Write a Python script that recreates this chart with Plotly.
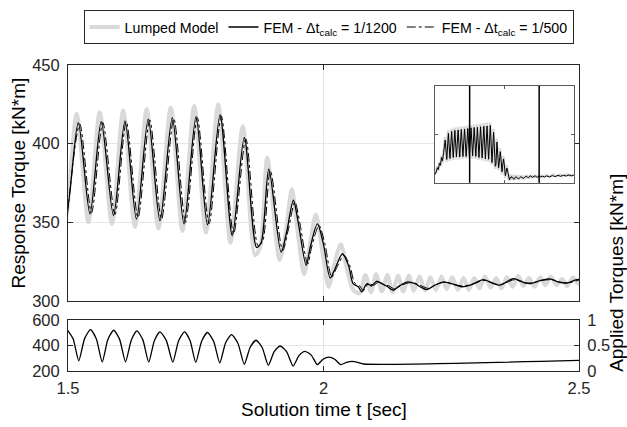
import plotly.graph_objects as go

# ---------------- data ----------------
# FEM dt = 1/1200 response torque [kN*m]
t_fem1200 = [1.000, 1.020, 1.035, 1.050, 1.065, 1.080, 1.095, 1.110, 1.125, 1.148,
             1.171, 1.194, 1.217, 1.241, 1.264, 1.287, 1.310, 1.334, 1.357, 1.380,
             1.4035, 1.4268, 1.450, 1.4734, 1.4967, 1.520, 1.543, 1.565, 1.589, 1.6115,
             1.634, 1.657, 1.680, 1.704, 1.727, 1.7505, 1.773, 1.7975, 1.8215, 1.845,
             1.869, 1.878, 1.893, 1.917, 1.928, 1.941, 1.951, 1.966, 1.974, 1.988,
             2.000, 2.013, 2.022, 2.037, 2.049, 2.058, 2.068, 2.075, 2.085, 2.094,
             2.104, 2.114, 2.124, 2.137, 2.146, 2.163, 2.179, 2.189, 2.202, 2.218,
             2.2345, 2.251, 2.270, 2.287, 2.300, 2.313, 2.330, 2.345, 2.3715, 2.390,
             2.404, 2.425, 2.443, 2.460, 2.476, 2.4987, 2.52, 2.55, 2.58, 2.61,
             2.65, 2.69, 2.73, 2.77, 2.81, 2.85, 2.89, 2.93, 2.97, 3.00]
v_fem1200 = [317, 322, 331, 327, 340, 336, 352, 345, 362, 388,
             348, 402, 350, 406, 352, 408, 353, 409, 353, 410,
             354, 411, 354, 412, 355, 413.4, 355.4, 414, 354.3, 414.5,
             352, 415.6, 351, 416.6, 349, 417.2, 348.4, 418.3, 341.6, 404,
             334, 337, 384, 331, 344, 364, 349, 322.6, 334, 349,
             336, 314.5, 320, 330, 322.5, 311, 309, 305.7, 311, 309.5,
             312.5, 311, 309.3, 306.8, 309, 312, 311, 309, 307.2, 310,
             312, 311, 309, 310, 312, 313.6, 311.5, 310, 314.2, 312,
             311, 313, 314, 312, 311.4, 313.7, 312, 313.5, 311.5, 314,
             312, 314.5, 312.5, 315, 313, 315.5, 313.5, 316, 314, 315.5]

# Lumped model response torque [kN*m]
t_lumped = [1.000, 1.020, 1.035, 1.050, 1.065, 1.080, 1.095, 1.110, 1.125, 1.145,
            1.168, 1.191, 1.214, 1.238, 1.261, 1.284, 1.307, 1.331, 1.354, 1.377,
            1.400, 1.424, 1.447, 1.470, 1.494, 1.517, 1.540, 1.562, 1.586, 1.608,
            1.631, 1.654, 1.677, 1.701, 1.724, 1.747, 1.770, 1.794, 1.818, 1.842,
            1.866, 1.876, 1.890, 1.914, 1.925, 1.938, 1.949, 1.962, 1.972, 1.985,
            1.998, 2.010, 2.020, 2.034, 2.046, 2.058, 2.071, 2.082, 2.093, 2.103,
            2.114, 2.125, 2.135, 2.146, 2.156, 2.167, 2.177, 2.188, 2.199, 2.209,
            2.220, 2.231, 2.241, 2.252, 2.263, 2.274, 2.284, 2.295, 2.305, 2.316,
            2.327, 2.338, 2.348, 2.359, 2.370, 2.381, 2.391, 2.402, 2.413, 2.424,
            2.434, 2.445, 2.456, 2.467, 2.477, 2.488, 2.499, 2.510, 2.55, 2.60,
            2.65, 2.70, 2.75, 2.80, 2.85, 2.90, 2.95, 3.00]
v_lumped = [316, 324, 333, 325, 343, 333, 356, 341, 366, 394,
            343, 408, 345, 412, 347, 414, 348, 415, 348, 416,
            349, 417, 349, 418, 350, 419, 350, 420, 349, 421,
            347, 422, 346, 423, 344.5, 424, 343.5, 425, 337, 411,
            329, 334, 391, 326, 341, 371, 345, 317, 333, 355,
            331, 309, 322, 336, 320, 307, 305, 316.5, 305.5, 317,
            306, 316.5, 305.5, 316, 306, 316, 306.5, 315.5, 306.5, 315,
            307, 315.5, 307.5, 315, 307, 314.5, 307, 314.5, 308, 315.5,
            308.5, 314.5, 308, 315, 309, 316, 309.5, 314.5, 309, 315,
            310, 315.5, 310, 314, 309.5, 315, 311, 315, 311, 316,
            312, 317, 313, 317, 313.5, 317.5, 314, 317]

# FEM dt = 1/500 response torque [kN*m]
t_fem500 = [1.499, 1.523, 1.546, 1.568, 1.592, 1.614, 1.637, 1.660, 1.683, 1.707,
            1.730, 1.753, 1.776, 1.800, 1.824, 1.848, 1.872, 1.881, 1.896, 1.920,
            1.931, 1.944, 1.954, 1.969, 1.977, 1.991, 2.003, 2.016, 2.025, 2.040,
            2.052, 2.061, 2.071, 2.078, 2.088, 2.098, 2.108, 2.118, 2.128, 2.140,
            2.150, 2.166, 2.182, 2.192, 2.205, 2.221, 2.237, 2.254, 2.273, 2.290,
            2.303, 2.316, 2.333, 2.348, 2.374, 2.393, 2.407, 2.428, 2.446, 2.463,
            2.479, 2.502]
v_fem500 = [355, 412.5, 356, 413.5, 355, 414, 353, 415, 352, 416,
            350, 416.5, 349, 417.5, 342.5, 403, 335, 338, 383, 332,
            345, 363, 349, 323.5, 334.5, 348, 336, 315, 320.5, 329,
            322, 311.5, 309.5, 306.5, 311, 310, 312, 310.5, 309.5, 307.5,
            309.5, 311.5, 311, 309.5, 308, 310.5, 312, 310.5, 309.5, 310.5,
            312, 313, 311, 310.5, 313.5, 311.5, 311.5, 313, 313.5, 312,
            311.5, 313.5]

# Applied torque (lower panel, left axis units)
t_applied = [1.4985, 1.510, 1.521, 1.5325, 1.544, 1.5555, 1.567, 1.578, 1.5895, 1.601,
             1.6126, 1.624, 1.635, 1.6465, 1.658, 1.669, 1.680, 1.6925, 1.705, 1.7165,
             1.728, 1.739, 1.750, 1.7615, 1.773, 1.785, 1.797, 1.8085, 1.820, 1.8325,
             1.845, 1.8565, 1.868, 1.880, 1.892, 1.9035, 1.915, 1.928, 1.9406, 1.952,
             1.9636, 1.976, 1.988, 1.999, 2.0105, 2.022, 2.0336, 2.045, 2.056, 2.067,
             2.079, 2.500]
v_applied = [525, 454, 280, 455, 526, 452, 272, 449, 521, 449,
             272, 445, 516, 445, 270, 439, 508, 439, 270, 439,
             508, 438, 268, 435, 503, 434, 265, 423, 487, 419,
             253, 387, 442, 385, 245, 353, 397, 351, 239, 321,
             355, 325, 250, 293, 310, 293, 250, 268, 276, 268,
             255, 283]

x_ticks = [1.5, 2, 2.5]
x_ticklabels = ["1.5", "2", "2.5"]
y_main_ticks = [300, 350, 400, 450]
y_low_ticks = [200, 400, 600]
y_right_ticks = [0, 0.5, 1]
y_right_ticklabels = ["0", "0.5", "1"]
zoom_window = [1.5, 2.5]

# ---------------- figure ----------------
FONT = "Liberation Sans, Arial, Helvetica, sans-serif"
AX = "#262626"
GRID = "#e6e6e6"
GRAY = "#d9d9d9"
TICK_SIZE = 16.5
TITLE_SIZE = 19

fig = go.Figure()

# main panel
fig.add_trace(go.Scatter(x=t_lumped, y=v_lumped, mode="lines", name="Lumped Model",
                         line=dict(color=GRAY, width=4, shape="spline", smoothing=0.8),
                         xaxis="x", yaxis="y"))
fig.add_trace(go.Scatter(x=t_fem1200, y=v_fem1200, mode="lines",
                         name="FEM - Δt<sub>calc</sub> = 1/1200",
                         line=dict(color="black", width=1.3, shape="spline", smoothing=0.8),
                         xaxis="x", yaxis="y"))
fig.add_trace(go.Scatter(x=t_fem500, y=v_fem500, mode="lines",
                         name="FEM - Δt<sub>calc</sub> = 1/500",
                         line=dict(color="black", width=1, dash="dashdot", shape="spline", smoothing=0.8),
                         xaxis="x", yaxis="y"))

# lower panel
fig.add_trace(go.Scatter(x=t_applied, y=v_applied, mode="lines", showlegend=False,
                         line=dict(color="black", width=1.3, shape="spline", smoothing=0.6),
                         xaxis="x2", yaxis="y2"))
# invisible trace to establish right axis
fig.add_trace(go.Scatter(x=[1.5], y=[0], mode="markers", showlegend=False,
                         marker=dict(opacity=0), hoverinfo="skip",
                         xaxis="x2", yaxis="y3"))

# inset
fig.add_trace(go.Scatter(x=t_lumped, y=v_lumped, mode="lines", showlegend=False,
                         line=dict(color=GRAY, width=2.5),
                         xaxis="x4", yaxis="y4"))
fig.add_trace(go.Scatter(x=t_fem1200, y=v_fem1200, mode="lines", showlegend=False,
                         line=dict(color="black", width=1),
                         xaxis="x4", yaxis="y4"))

axis_common = dict(showline=True, linecolor=AX, linewidth=1, ticks="inside",
                   ticklen=5, tickcolor=AX, tickwidth=1,
                   tickfont=dict(family=FONT, size=TICK_SIZE, color=AX),
                   showgrid=True, gridcolor=GRID, gridwidth=1, zeroline=False)

main_dom_y = [0.229, 1.0]
low_dom_y = [0.0, 0.166]

fig.update_layout(
    width=627, height=427,
    margin=dict(l=68, r=48, t=64, b=56),
    paper_bgcolor="white", plot_bgcolor="white",
    font=dict(family=FONT, color=AX),
    showlegend=True,
    legend=dict(orientation="h", x=0.51, xanchor="center", y=1.175, yanchor="top",
                bordercolor=AX, borderwidth=1, bgcolor="white",
                font=dict(family=FONT, size=14.2, color="black"),
                itemwidth=30, tracegroupgap=0),
    xaxis=dict(**axis_common, domain=[0, 1], range=[1.5, 2.5], tickvals=x_ticks,
               showticklabels=False, mirror="ticks", anchor="y"),
    yaxis=dict(**axis_common, domain=main_dom_y, range=[300, 450], tickvals=y_main_ticks,
               mirror="ticks", anchor="x", ticklabelstandoff=4),
    xaxis2=dict(**axis_common, domain=[0, 1], range=[1.5, 2.5], tickvals=x_ticks,
                ticktext=x_ticklabels, mirror="ticks", anchor="y2", ticklabelstandoff=2),
    yaxis2=dict(**axis_common, domain=low_dom_y, range=[200, 600], tickvals=y_low_ticks,
                anchor="x2", ticklabelstandoff=4),
    yaxis3=dict(**{k: v for k, v in axis_common.items() if k != "showgrid"}, showgrid=False,
                overlaying="y2", side="right", range=[0, 1], tickvals=y_right_ticks,
                ticktext=y_right_ticklabels, anchor="x2", ticklabelstandoff=4),
    xaxis4=dict(domain=[0.718, 0.990], range=[1.0, 3.0], dtick=0.5, tick0=1.0,
                showline=True, linecolor="#5a5a5a", linewidth=1, mirror="ticks",
                ticks="inside", ticklen=3, tickcolor="#5a5a5a", showticklabels=False,
                showgrid=False, zeroline=False, anchor="y4"),
    yaxis4=dict(domain=[0.6156, 0.9316], range=[300, 500], dtick=100, tick0=300,
                showline=True, linecolor="#5a5a5a", linewidth=1, mirror="ticks",
                ticks="inside", ticklen=3, tickcolor="#5a5a5a", showticklabels=False,
                showgrid=False, zeroline=False, anchor="x4"),
)

# zoom window markers in the inset
for tz in zoom_window:
    fig.add_shape(type="line", xref="x4", yref="y4 domain", x0=tz, x1=tz, y0=0, y1=1,
                  line=dict(color="black", width=1.5))

# axis titles as annotations
fig.add_annotation(text="Response Torque [kN*m]", xref="paper", yref="paper",
                   x=-0.096, y=0.6156, textangle=-90, showarrow=False,
                   font=dict(family=FONT, size=TITLE_SIZE, color="black"),
                   xanchor="center", yanchor="middle")
fig.add_annotation(text="Applied Torques [kN*m]", xref="paper", yref="paper",
                   x=1.072, y=0.32, textangle=-90, showarrow=False,
                   font=dict(family=FONT, size=TITLE_SIZE, color="black"),
                   xanchor="center", yanchor="middle")
fig.add_annotation(text="Solution time t [sec]", xref="paper", yref="paper",
                   x=0.5, y=-0.127, showarrow=False,
                   font=dict(family=FONT, size=TITLE_SIZE, color="black"),
                   xanchor="center", yanchor="middle")

fig.write_html("out.html", config={"displayModeBar": False},
               post_script="document.body.style.margin='0';document.body.style.overflow='hidden';")
